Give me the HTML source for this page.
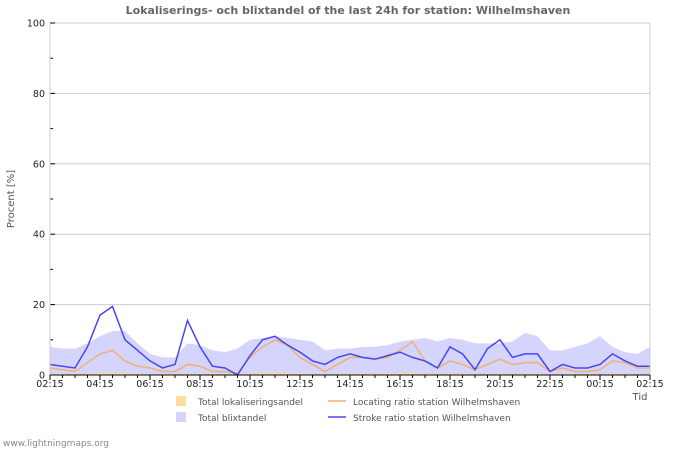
<!DOCTYPE html>
<html><head><meta charset="utf-8"><style>
body{margin:0;background:#fff;width:700px;height:450px;overflow:hidden;font-family:"Liberation Sans","DejaVu Sans",sans-serif}
svg text{font-family:"DejaVu Sans","Liberation Sans",sans-serif}
</style></head><body>
<svg id="chart" width="700" height="450">
<text x="348" y="14" text-anchor="middle" font-size="11" font-weight="bold" fill="#666">Lokaliserings- och blixtandel of the last 24h for station: Wilhelmshaven</text>
<g id="grid"></g>
<g id="series"></g>
<g id="axes"></g>
<text transform="translate(14,199) rotate(-90)" text-anchor="middle" font-size="10" fill="#555">Procent   [%]</text>
<text x="640" y="400" text-anchor="middle" font-size="10" fill="#555">Tid</text>
<g font-size="9" fill="#555">
<rect x="176" y="396" width="10" height="10" fill="#fddca0"/>
<text x="198" y="405">Total lokaliseringsandel</text>
<line x1="328" y1="401" x2="346" y2="401" stroke="#f0b070" stroke-width="1.5"/>
<text x="353" y="405">Locating ratio station Wilhelmshaven</text>
<rect x="176" y="412" width="10" height="10" fill="#d4d4fc"/>
<text x="198" y="421">Total blixtandel</text>
<line x1="328" y1="417" x2="346" y2="417" stroke="#4646f0" stroke-width="1.5"/>
<text x="353" y="421">Stroke ratio station Wilhelmshaven</text>
</g>
<text x="3" y="446" font-size="9" fill="#888">www.lightningmaps.org</text>
</svg>
<script>
const xLabels=["02:15","04:15","06:15","08:15","10:15","12:15","14:15","16:15","18:15","20:15","22:15","00:15","02:15"];
const yTicks=[0,20,40,60,80,100];
const strokeRatio=[3,2.5,2,8,17,19.5,10,7,4,2,3,15.5,8,2.5,2,0,5.5,10,11,8.5,6.5,4,3,5,6,5,4.5,5.5,6.5,5,4,2,8,6,1.5,7.5,10,5,6,6,1,3,2,2,3,6,4,2.5,2.5];
const locatingRatio=[2,1.5,1,3.5,6,7,4,2.5,2,1,1,3,2.5,1,1,0.5,5,8,10,8.5,5,3,1,3,5,5,4.5,5,7,9.5,4,2,4,3,1.5,3,4.5,3,3.5,3.5,1,2,1,1,1.5,4,3.5,2,2];
const totalStroke=[8,7.5,7.5,9,11,12.5,12.5,9,6,5,5,9,8.5,7,6.5,7.5,10,10.5,11,10.5,10,9.5,7,7.5,7.5,8,8,8.5,9.5,10,10.5,9.5,10.5,10,9,9,9,9.5,12,11,7,7,8,9,11,8,6.5,6,8];
const totalLocating=[0.4,0.3,0.3,0.4,0.5,0.6,0.5,0.4,0.3,0.3,0.3,0.4,0.4,0.3,0.3,0.2,0.4,0.5,0.6,0.5,0.4,0.4,0.3,0.3,0.4,0.4,0.4,0.4,0.5,0.5,0.4,0.3,0.4,0.4,0.3,0.3,0.4,0.3,0.4,0.4,0.2,0.3,0.3,0.3,0.3,0.4,0.4,0.3,0.3];
const X0=50,X1=650,Y0=375,Y1=23,NS="http://www.w3.org/2000/svg";
const xs=i=>X0+(X1-X0)*i/(strokeRatio.length-1);
const xl=i=>X0+(X1-X0)*i/(xLabels.length-1);
const ys=v=>Y0-(Y0-Y1)*v/100;
function mk(t,a,p){const e=document.createElementNS(NS,t);for(const k in a)e.setAttribute(k,a[k]);p.appendChild(e);return e;}
const grid=document.getElementById('grid'),ser=document.getElementById('series'),ax=document.getElementById('axes');
yTicks.forEach(v=>{
 const l=mk('line',{x1:X0,x2:X1,y1:ys(v),y2:ys(v),stroke:'#ccc'},grid);
 
 
 const t=mk('text',{x:45,y:ys(v)+3.5,'text-anchor':'end','font-size':'9.5',fill:'#222'},ax);
 t.textContent=v;
 
 
 mk('line',{x1:X0,x2:X0+5,y1:ys(v),y2:ys(v),stroke:'#000'},ax);
});
for(let v=10;v<100;v+=20)mk('line',{x1:X0,x2:X0+3,y1:ys(v),y2:ys(v),stroke:'#000'},ax);
mk('line',{x1:X0,x2:X0,y1:Y1,y2:Y0,stroke:'#ccc'},ax);
mk('line',{x1:X1,x2:X1,y1:Y1,y2:Y0,stroke:'#ccc'},ax);
function area(arr,fill,name){let d='M'+xs(0)+','+Y0;arr.forEach((v,i)=>d+='L'+xs(i)+','+ys(v));d+='L'+xs(arr.length-1)+','+Y0+'Z';
 const p=mk('path',{d:d,fill:fill},ser);
 
 }
function line(arr,col,name){let d='';arr.forEach((v,i)=>d+=(i?'L':'M')+xs(i)+','+ys(v));
 const p=mk('path',{d:d,fill:'none',stroke:col,'stroke-width':1.5},ser);
 
 }
area(totalStroke,'#d4d4fc','total-stroke-area');
area(totalLocating,'#fddca0','total-locating-area');
line(locatingRatio,'#f0b070','locating-ratio-line');
line(strokeRatio,'#4646f0','stroke-ratio-line');
mk('line',{x1:X0,x2:X1,y1:Y0,y2:Y0,stroke:'#000'},ax);
for(let i=0;i<=48;i++){mk('line',{x1:xs(i),x2:xs(i),y1:Y0,y2:Y0+(i%4==0?5:3),stroke:'#000'},ax);}
xLabels.forEach((s,i)=>{const t=mk('text',{x:xl(i),y:387,'text-anchor':'middle','font-size':'9.5',fill:'#222'},ax);
 t.textContent=s;
 
 });
</script>
</body></html>
